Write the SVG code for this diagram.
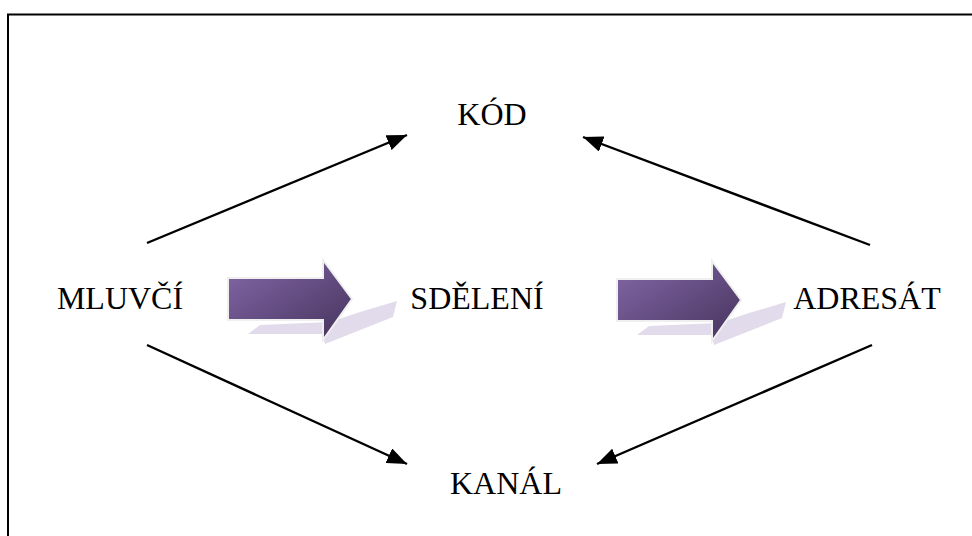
<svg xmlns="http://www.w3.org/2000/svg" width="972" height="536" viewBox="0 0 972 536">
<defs>
<style>
.lbl{font-family:"Liberation Serif","Times New Roman",serif;font-size:32px;fill:#000;text-anchor:middle}
.con{stroke:#000;stroke-width:2.4;fill:none}
.shadow{fill:#e2dbeb}
.big{fill:url(#pg);stroke:#efefef;stroke-width:2;stroke-linejoin:miter}
</style>
<linearGradient id="pg" x1="0" y1="0" x2="1" y2="1">
<stop offset="0" stop-color="#8468a8"/>
<stop offset="1" stop-color="#45335c"/>
</linearGradient>
<marker id="ah" markerUnits="userSpaceOnUse" markerWidth="22" markerHeight="16" refX="20" refY="8" orient="auto">
<path d="M0,0 L20,8 L0,16 Z" fill="#000"/>
</marker>
<g id="bigArrow">
<path class="shadow" d="M248,334 L260,325 L330,322 L360,312 L397,301 L393,317 L325,344 L322,334 Z"/>
<path class="big" d="M228,278 L323,278 L323,260 L352,299 L323,340 L323,320 L228,320 Z"/>
</g>
</defs>
<rect width="972" height="536" fill="#fff"/>
<g id="frame">
<path d="M8,536 L8,14.5 L972,14.5" stroke="#000" stroke-width="2" fill="none"/>
</g>
<g id="connectors">
<line class="con" x1="147" y1="243" x2="407" y2="135" marker-end="url(#ah)"/>
<line class="con" x1="870" y1="245" x2="583" y2="137" marker-end="url(#ah)"/>
<line class="con" x1="147" y1="345" x2="407" y2="464" marker-end="url(#ah)"/>
<line class="con" x1="872" y1="345" x2="597" y2="464" marker-end="url(#ah)"/>
<use href="#bigArrow"/>
<use href="#bigArrow" transform="translate(389,1)"/>
</g>
<g id="kod"><text class="lbl" x="492" y="125">KÓD</text></g>
<g id="mluvci"><text class="lbl" x="120" y="309">MLUVČÍ</text></g>
<g id="sdeleni"><text class="lbl" x="477" y="309">SDĚLENÍ</text></g>
<g id="adresat"><text class="lbl" x="867" y="309">ADRESÁT</text></g>
<g id="kanal"><text class="lbl" x="506" y="494">KANÁL</text></g>
</svg>
